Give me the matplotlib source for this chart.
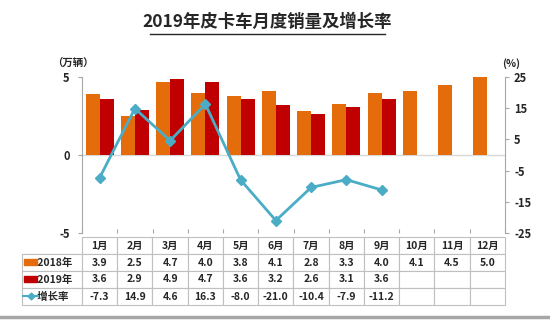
import matplotlib
matplotlib.use("Agg")
import matplotlib.pyplot as plt
import numpy as np
from matplotlib.lines import Line2D
from matplotlib.patches import Rectangle

plt.rcParams['font.family'] = ['Noto Sans CJK SC', 'DejaVu Sans']

months = ['1月', '2月', '3月', '4月', '5月', '6月', '7月', '8月', '9月', '10月', '11月', '12月']
sales_2018 = [3.9, 2.5, 4.7, 4.0, 3.8, 4.1, 2.8, 3.3, 4.0, 4.1, 4.5, 5.0]
sales_2019 = [3.6, 2.9, 4.9, 4.7, 3.6, 3.2, 2.6, 3.1, 3.6]
growth = [-7.3, 14.9, 4.6, 16.3, -8.0, -21.0, -10.4, -7.9, -11.2]
series_names = ['2018年', '2019年', '增长率']

c2018 = '#E46C0A'
c2019 = '#C00000'
cline = '#4BACC6'
grid_c = '#A6A6A6'
txt_c = '#262626'

W, H = 550, 320
fig = plt.figure(figsize=(W / 100, H / 100), dpi=100)
ax = fig.add_axes([82 / W, 1 - 233 / H, (505 - 82) / W, (233 - 77) / H])

x = np.arange(len(months))
bw = 0.4
ax.bar(x[:len(sales_2018)] - bw / 2, sales_2018, bw, color=c2018, zorder=2)
ax.bar(x[:len(sales_2019)] + bw / 2, sales_2019, bw, color=c2019, zorder=2)
ax.set_xlim(-0.5, len(months) - 0.5)
ax.set_ylim(-5, 5)
ax.set_yticks([-5, 0, 5])
ax.set_yticklabels(['-5', '0', '5'], fontweight='bold', fontsize=8, color=txt_c)
ax.axhline(0, color='#D9D9D9', lw=1, zorder=1)
ax.set_xticks(np.arange(len(months) + 1) - 0.5)
ax.set_xticklabels([])
ax.tick_params(axis='x', length=3, color=grid_c, direction='in')
ax.tick_params(axis='y', length=3, color=grid_c, pad=6)
for s in ['top', 'bottom']:
    ax.spines[s].set_visible(False)
ax.spines['left'].set_color(grid_c)
ax.spines['right'].set_visible(False)

ax2 = ax.twinx()
ax2.plot(x[:len(growth)], growth, color=cline, lw=2, marker='D', ms=5, zorder=3)
ax2.set_ylim(-25, 25)
ax2.set_yticks([-25, -15, -5, 5, 15, 25])
ax2.set_yticklabels(['-25', '-15', '-5', '5', '15', '25'], fontweight='bold', fontsize=8, color=txt_c)
ax2.tick_params(axis='y', length=3, color=grid_c)
for s in ['top', 'bottom', 'left']:
    ax2.spines[s].set_visible(False)
ax2.spines['right'].set_color(grid_c)

# unit labels
fig.text(73 / W, 1 - 64 / H, '（万辆）', ha='center', va='center', fontsize=7.5, fontweight='bold', color=txt_c)
fig.text(511 / W, 1 - 64 / H, '(%)', ha='center', va='center', fontsize=7.5, fontweight='bold', color=txt_c)

# title
fig.text(267 / W, 1 - 22 / H, '2019年皮卡车月度销量及增长率', ha='center', va='center',
         fontsize=12.5, fontweight='bold', color=txt_c)
fig.add_artist(Line2D([150 / W, 385 / W], [1 - 34 / H, 1 - 34 / H], color=txt_c, lw=1))

# data table
def fmt(v):
    return f'{v:.1f}'
n = len(months)
pad = '      '
row1 = [pad + series_names[0]] + [fmt(v) for v in sales_2018] + [''] * (n - len(sales_2018))
row2 = [pad + series_names[1]] + [fmt(v) for v in sales_2019] + [''] * (n - len(sales_2019))
row3 = [pad + series_names[2]] + [fmt(v) for v in growth] + [''] * (n - len(growth))
lab_w = 60 / 423
tbl = ax.table(cellText=[row1, row2, row3], colLabels=[''] + months,
               colWidths=[lab_w] + [1 / n] * n, cellLoc='center',
               bbox=[-lab_w, -72 / 156, 1 + lab_w, 68 / 156])
tbl.auto_set_font_size(False)
for (r, c), cell in tbl.get_celld().items():
    cell.set_edgecolor('#BFBFBF')
    cell.set_linewidth(0.8)
    t = cell.get_text()
    t.set_fontsize(7.5)
    t.set_fontweight('bold')
    t.set_color(txt_c)
    if c == 0:
        t.set_ha('left')
        cell._loc = 'left'
        cell.PAD = 0.02
    if r == 0 and c == 0:
        cell.visible_edges = 'B'
        cell.set_edgecolor('#BFBFBF')

# legend keys in the table
ys = [262, 279, 296]
fig.add_artist(Rectangle((24 / W, 1 - (ys[0] + 3) / H), 13 / W, 6 / H, color=c2018))
fig.add_artist(Rectangle((24 / W, 1 - (ys[1] + 3) / H), 13 / W, 6 / H, color=c2019))
fig.add_artist(Line2D([23 / W, 38 / W], [1 - ys[2] / H] * 2, color=cline, lw=1.5))
fig.add_artist(Line2D([30.5 / W], [1 - ys[2] / H], color=cline, marker='D', ms=3.5))

# bottom border
fig.add_artist(Line2D([0, 1], [1 - 317 / H] * 2, color='#A6A6A6', lw=2.5))

fig.savefig('out.png', dpi=100)
